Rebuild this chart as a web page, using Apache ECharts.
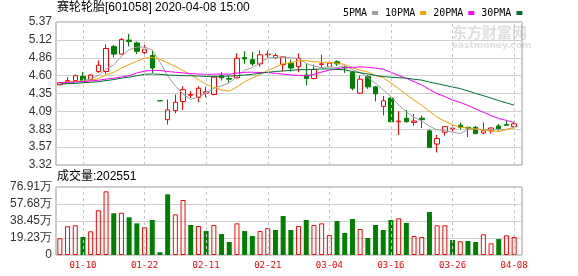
<!DOCTYPE html>
<html><head><meta charset="utf-8">
<script src="https://cdn.jsdelivr.net/npm/echarts/dist/echarts.min.js"></script>
<style>html,body{margin:0;padding:0;background:#fff}#c{width:578px;height:276px}</style>
</head><body><div id="c"></div>
<script>
const stockTitle = '赛轮轮胎[601058] 2020-04-08 15:00';
const volumeTitle = '成交量';
const lastVolume = 202551;
const dates = ['01-07','01-08','01-09','01-10','01-13','01-14','01-15','01-16','01-17','01-20',
  '01-21','01-22','01-23','02-03','02-04','02-05','02-06','02-07','02-10','02-11',
  '02-12','02-13','02-14','02-17','02-18','02-19','02-20','02-21','02-24','02-25',
  '02-26','02-27','02-28','03-02','03-03','03-04','03-05','03-06','03-09','03-10',
  '03-11','03-12','03-13','03-16','03-17','03-18','03-19','03-20','03-23','03-24',
  '03-25','03-26','03-27','03-30','03-31','04-01','04-02','04-03','04-07','04-08'];
const labelDates = ['01-10','01-22','02-11','02-21','03-04','03-16','03-26','04-08'];
const opens = [4.47,4.51,4.53,4.59,4.54,4.66,4.66,5.02,4.91,5.11,
  5.07,4.93,4.89,4.24,3.97,4.10,4.23,4.32,4.29,4.35,
  4.33,4.60,4.56,4.57,4.86,4.83,4.77,4.90,4.86,4.76,
  4.78,4.73,4.61,4.56,4.76,4.73,4.80,4.72,4.65,4.35,
  4.59,4.44,4.16,4.28,3.94,3.99,3.93,3.99,3.81,3.62,
  3.79,3.84,3.89,3.86,3.86,3.78,3.81,3.88,3.90,3.87];
const closes = [4.50,4.53,4.60,4.52,4.61,4.75,4.99,4.91,5.12,5.09,
  4.95,4.98,4.71,4.24,4.11,4.22,4.40,4.33,4.42,4.37,
  4.58,4.57,4.55,4.85,4.84,4.77,4.90,4.91,4.89,4.87,
  4.71,4.85,4.56,4.69,4.77,4.78,4.77,4.71,4.42,4.55,
  4.44,4.34,4.24,3.94,3.95,3.94,3.95,3.97,3.57,3.70,
  3.87,3.85,3.86,3.85,3.77,3.81,3.85,3.84,3.89,3.91];
const lows = [4.46,4.50,4.52,4.51,4.53,4.64,4.62,4.86,4.90,5.02,
  4.91,4.89,4.64,4.24,3.90,4.06,4.11,4.28,4.22,4.29,
  4.32,4.53,4.50,4.56,4.77,4.74,4.73,4.86,4.84,4.66,
  4.66,4.65,4.46,4.55,4.72,4.69,4.74,4.64,4.39,4.34,
  4.41,4.23,4.03,3.94,3.75,3.93,3.88,3.85,3.57,3.50,
  3.74,3.80,3.83,3.72,3.76,3.76,3.77,3.81,3.89,3.86];
const highs = [4.51,4.58,4.62,4.65,4.62,4.82,5.05,5.04,5.14,5.20,
  5.09,5.05,4.96,4.24,4.26,4.33,4.45,4.38,4.45,4.44,
  4.60,4.65,4.60,4.92,4.95,4.94,4.96,4.96,4.92,4.88,
  4.83,4.92,4.77,4.76,4.90,4.82,4.82,4.74,4.67,4.60,
  4.61,4.45,4.31,4.29,4.09,4.11,4.05,4.03,3.83,3.75,
  3.88,3.89,3.93,3.87,3.88,3.93,3.86,3.91,3.96,3.94];
const volumes = [189000,325000,336000,204000,268000,506000,720000,472000,478000,426000,
  358000,313000,396000,31000,686000,460000,622000,339000,328000,271000,
  339000,237000,147000,358000,271000,215000,271000,305000,283000,441000,
  283000,328000,396000,339000,358000,226000,385000,249000,407000,294000,
  192000,339000,283000,396000,415000,362000,215000,204000,486000,336000,
  336000,170000,155000,158000,147000,234000,132000,181000,223000,202551];
const ma5 = [4.48,4.49,4.51,4.53,4.552,4.602,4.694,4.756,4.876,4.972,
  5.012,5.01,4.97,4.794,4.598,4.452,4.336,4.26,4.296,4.348,
  4.42,4.454,4.498,4.584,4.678,4.716,4.782,4.854,4.862,4.868,
  4.856,4.846,4.776,4.736,4.716,4.73,4.714,4.742,4.69,4.644,
  4.578,4.492,4.398,4.302,4.182,4.082,4.004,3.95,3.876,3.826,
  3.812,3.792,3.77,3.826,3.84,3.828,3.828,3.824,3.832,3.86];
const ma10 = [4.50,4.51,4.52,4.52,4.53,4.56,4.61,4.65,4.71,4.762,
  4.807,4.852,4.863,4.835,4.785,4.732,4.673,4.615,4.545,4.473,
  4.436,4.395,4.379,4.44,4.513,4.568,4.618,4.676,4.723,4.773,
  4.786,4.814,4.815,4.799,4.792,4.793,4.779,4.76,4.713,4.681,
  4.654,4.603,4.571,4.496,4.413,4.33,4.248,4.174,4.089,4.004,
  3.947,3.898,3.86,3.851,3.833,3.82,3.81,3.797,3.829,3.85];
const ma20 = [4.50,4.505,4.51,4.515,4.525,4.535,4.55,4.565,4.58,4.60,
  4.64,4.665,4.675,4.675,4.66,4.65,4.64,4.63,4.625,4.618,
  4.622,4.624,4.621,4.638,4.649,4.65,4.646,4.646,4.634,4.623,
  4.611,4.605,4.597,4.62,4.653,4.68,4.699,4.718,4.718,4.727,
  4.72,4.709,4.693,4.648,4.603,4.562,4.514,4.467,4.401,4.343,
  4.301,4.251,4.216,4.174,4.123,4.075,4.029,3.986,3.959,3.927];
const ma30 = [4.48,4.485,4.49,4.50,4.505,4.515,4.53,4.545,4.565,4.58,
  4.60,4.62,4.625,4.62,4.61,4.605,4.60,4.60,4.595,4.59,
  4.59,4.59,4.595,4.60,4.61,4.62,4.635,4.65,4.66,4.669,
  4.676,4.687,4.686,4.691,4.697,4.698,4.69,4.684,4.66,4.642,
  4.625,4.604,4.588,4.578,4.573,4.564,4.549,4.537,4.508,4.486,
  4.462,4.438,4.415,4.382,4.346,4.314,4.279,4.244,4.21,4.178];
const priceTicks = ['3.32','3.57','3.83','4.09','4.35','4.60','4.86','5.12','5.37'];
const volTicks = ['0','19.23万','38.45万','57.68万','76.91万'];
const priceMin = 3.32, priceMax = 5.37, volMax = 769100;

const RED = '#ff0000', GREEN = '#008000';
const maNames = ['5PMA','10PMA','20PMA','30PMA'];
const maColors = ['#a0a0a0','#f5a300','#ff00ff','#006e32'];
const maData = [ma5, ma10, ma20, ma30];

const chart = echarts.init(document.getElementById('c'), null, {renderer:'canvas'});
const labelIdx = new Set(labelDates.map(d => dates.indexOf(d)));
const vLine = {
  symbol:['none','none'], silent:true, animation:false,
  label:{show:false},
  lineStyle:{color:'#c8c8c8', type:[3,3], width:1},
  data: labelDates.map(d => ({xAxis:d}))
};
const yLabel = {color:'#333', fontFamily:'Liberation Sans, Arial, sans-serif', fontSize:12, margin:4};

chart.setOption({
  animation:false,
  backgroundColor:'#fff',
  legend:{
    left:338, top:3, align:'right', icon:'rect', itemWidth:6, itemHeight:4, itemGap:7,
    selectedMode:false,
    textStyle:{fontFamily:'DejaVu Sans Mono, monospace', fontSize:10, color:'#000'},
    data: maNames
  },
  graphic:[
    {type:'text', left:57, top:2, style:{text:stockTitle, fontSize:12, fontFamily:'Liberation Sans, Noto Sans CJK SC, sans-serif', fill:'#000'}},
    {type:'text', left:57, top:171, style:{text:volumeTitle + ':' + lastVolume, fontSize:12, fontFamily:'Liberation Sans, Noto Sans CJK SC, sans-serif', fill:'#000'}},
    {type:'text', left:452, top:25, z:-1, style:{text:'东方财富网', fontSize:15, fontWeight:'bold', fontFamily:'Noto Sans CJK SC, sans-serif', fill:'#e0e0e0'}},
    {type:'text', left:452, top:41, z:-1, style:{text:'eastmoney.com', fontSize:9, fontWeight:'bold', fontFamily:'DejaVu Sans, sans-serif', fill:'#e0e0e0'}}
  ],
  grid:[
    {left:56, top:22, width:466, height:143, show:true, borderColor:'#999', borderWidth:1, backgroundColor:'transparent'},
    {left:56, top:22, width:462, height:143},
    {left:56, top:187, width:466, height:68, show:true, borderColor:'#999', borderWidth:1, backgroundColor:'transparent'},
    {left:56, top:187, width:462, height:68}
  ],
  xAxis:[
    {gridIndex:0, type:'category', data:[''], show:false},
    {gridIndex:1, type:'category', data:dates, show:false},
    {gridIndex:2, type:'category', data:[''], show:false},
    {gridIndex:3, type:'category', data:dates,
      axisLine:{show:false}, axisTick:{show:false}, splitLine:{show:false},
      axisLabel:{interval:(i) => labelIdx.has(i), color:RED, fontFamily:'DejaVu Sans Mono, monospace', fontSize:9, margin:6}}
  ],
  yAxis:[
    {gridIndex:0, type:'value', min:0, max:8, interval:1,
      axisLine:{show:false}, axisTick:{show:false},
      splitLine:{lineStyle:{color:'#d0d0d0'}},
      axisLabel:Object.assign({formatter:(v) => priceTicks[v]}, yLabel)},
    {gridIndex:1, type:'value', min:priceMin, max:priceMax, show:false},
    {gridIndex:2, type:'value', min:0, max:4, interval:1,
      axisLine:{show:false}, axisTick:{show:false},
      splitLine:{lineStyle:{color:'#d0d0d0'}},
      axisLabel:Object.assign({formatter:(v) => volTicks[v]}, yLabel)},
    {gridIndex:3, type:'value', min:0, max:volMax, show:false}
  ],
  series:[
    {type:'candlestick', xAxisIndex:1, yAxisIndex:1, barWidth:5, z:2,
      data: dates.map((d,i) => [opens[i], closes[i], lows[i], highs[i]]),
      itemStyle:{color:'transparent', color0:GREEN, borderColor:RED, borderColor0:GREEN, borderColorDoji:GREEN, borderWidth:1},
      markLine: vLine},
    ...maNames.map((n,k) => ({
      name:n, type:'line', xAxisIndex:1, yAxisIndex:1, data:maData[k], symbol:'none', z:3,
      lineStyle:{color:maColors[k], width:1}, itemStyle:{color:maColors[k]}
    })),
    {type:'bar', xAxisIndex:3, yAxisIndex:3, barWidth:5,
      data: volumes.map((v,i) => {
        const up = i === 0 || closes[i] >= closes[i-1];
        return {value:v, itemStyle: up ? {color:'transparent', borderColor:RED, borderWidth:1} : {color:GREEN}};
      }),
      markLine: vLine}
  ]
});
</script></body></html>
